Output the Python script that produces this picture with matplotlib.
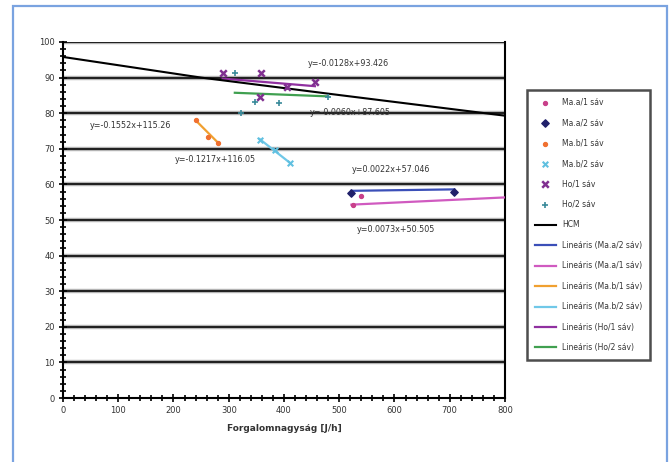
import numpy as np
import matplotlib.pyplot as plt
from matplotlib.patches import Rectangle
from matplotlib.ticker import MultipleLocator

# measured points (traffic volume J/h, speed)
ma_a1_x = [525, 540]
ma_a1_y = [54.3, 56.7]
ma_a2_x = [522, 708]
ma_a2_y = [57.7, 58.0]
ma_b1_x = [240, 263, 281]
ma_b1_y = [78.2, 73.3, 71.7]
ma_b2_x = [356, 384, 411]
ma_b2_y = [72.5, 69.7, 66.0]
ho1_x = [289, 358, 356, 406, 456]
ho1_y = [91.2, 91.2, 84.5, 87.3, 88.7]
ho2_x = [311, 323, 348, 391, 480]
ho2_y = [91.2, 80.1, 83.2, 82.8, 84.6]

# HCM curve
hcm_x = [0, 250, 500, 800]
hcm_y = [95.8, 90.0, 85.1, 79.3]

# linear trends: slope, intercept, x range
trend_labels = ["Lineáris (Ma.a/2 sáv)", "Lineáris (Ma.a/1 sáv)", "Lineáris (Ma.b/1 sáv)",
                "Lineáris (Ma.b/2 sáv)", "Lineáris (Ho/1 sáv)", "Lineáris (Ho/2 sáv)"]
trend_slope = [0.0022, 0.0073, -0.1552, -0.1217, -0.0128, -0.0060]
trend_icept = [57.046, 50.505, 115.26, 116.05, 93.426, 87.605]
trend_xmin = [522, 522, 240, 356, 289, 311]
trend_xmax = [708, 800, 281, 411, 456, 480]
trend_colors = ["#3b4fb8", "#d05ac0", "#f0a030", "#70c8e8", "#9030a0", "#40a050"]
eq_texts = ["y=0.0022x+57.046", "y=0.0073x+50.505", "y=-0.1552x+115.26",
            "y=-0.1217x+116.05", "y=-0.0128x+93.426", "y=-0.0060x+87.605"]
eq_x = [523, 532, 49, 203, 443, 447]
eq_y = [63.5, 46.6, 75.8, 66.3, 93.3, 79.5]

fig = plt.figure(figsize=(6.72, 4.62), dpi=100)
ax = fig.add_axes([0.09375, 0.1385, 0.6577, 0.7706])

# outer blue frame
fig.patches.append(Rectangle((13/672, -0.02), 654/672, 1.02 - 6/462, transform=fig.transFigure,
                             fill=False, edgecolor="#7aa3e0", linewidth=1.6))

for v in range(10, 101, 10):
    ax.axhline(v, color="#bbbbbb", lw=3.2, zorder=1)
    ax.axhline(v, color="#222222", lw=1.5, zorder=1)

# trend lines
for i in range(6):
    xs = np.array([trend_xmin[i], trend_xmax[i]])
    ax.plot(xs, trend_slope[i]*xs + trend_icept[i], color=trend_colors[i], lw=1.6,
            label=trend_labels[i], zorder=3)
    ax.text(eq_x[i], eq_y[i], eq_texts[i], fontsize=5.8, color="#333333", zorder=5)

ax.plot(hcm_x, hcm_y, color="black", lw=1.5, label="HCM", zorder=4)

ax.scatter(ma_a1_x, ma_a1_y, marker="o", s=8, color="#c8408a", label="Ma.a/1 sáv", zorder=4)
ax.scatter(ma_a2_x, ma_a2_y, marker="D", s=14, color="#20206a", label="Ma.a/2 sáv", zorder=4)
ax.scatter(ma_b1_x, ma_b1_y, marker="o", s=8, color="#f07030", label="Ma.b/1 sáv", zorder=4)
ax.scatter(ma_b2_x, ma_b2_y, marker="x", s=16, color="#60c0e0", label="Ma.b/2 sáv", zorder=4)
ax.scatter(ho1_x, ho1_y, marker="x", s=22, linewidths=1.8, color="#803090", label="Ho/1 sáv", zorder=4)
ax.scatter(ho2_x, ho2_y, marker="+", s=22, linewidths=1.2, color="#3a8a9a", label="Ho/2 sáv", zorder=4)

ax.set_xlim(0, 800)
ax.set_ylim(0, 100)
ax.xaxis.set_major_locator(MultipleLocator(100))
ax.xaxis.set_minor_locator(MultipleLocator(20))
ax.yaxis.set_major_locator(MultipleLocator(10))
ax.yaxis.set_minor_locator(MultipleLocator(2))
ax.tick_params(which="both", direction="inout", color="black", width=1.2)
ax.tick_params(which="major", length=6, labelsize=6, labelcolor="#333333", pad=3)
ax.tick_params(which="minor", length=4)
ax.spines["top"].set_visible(False)
for s in ["left", "bottom", "right"]:
    ax.spines[s].set_linewidth(1.5)
ax.set_xlabel("Forgalomnagyság [J/h]", fontsize=6.5, fontweight="bold", color="#333333", labelpad=6)

handles, labels = ax.get_legend_handles_labels()
order = ["Ma.a/1 sáv", "Ma.a/2 sáv", "Ma.b/1 sáv", "Ma.b/2 sáv", "Ho/1 sáv", "Ho/2 sáv", "HCM"] + trend_labels
hmap = dict(zip(labels, handles))
leg = fig.legend([hmap[l] for l in order], order, loc="upper left",
                 bbox_to_anchor=(527/672, 1 - 90/462), fontsize=5.5, frameon=True,
                 fancybox=False, edgecolor="#222222", labelspacing=1.5, handlelength=2.8,
                 borderpad=1.0, borderaxespad=0, labelcolor="#333333")
leg.get_frame().set_linewidth(1.8)

fig.savefig("out.png", dpi=100)
